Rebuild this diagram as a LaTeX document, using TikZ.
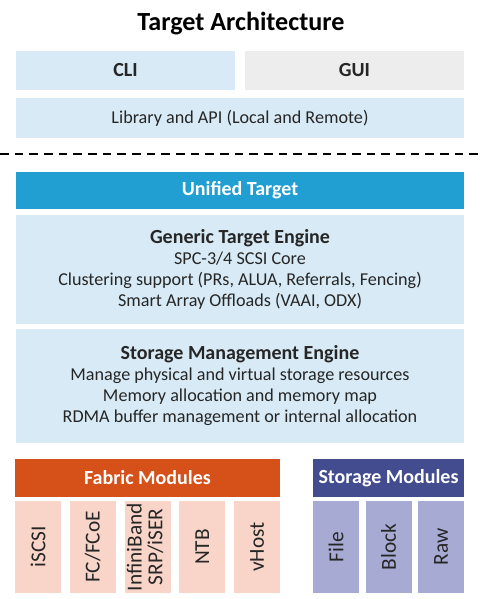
\documentclass[tikz,border=0pt]{standalone}
\usepackage{fontspec}
\setmainfont{Carlito}
\definecolor{paleblue}{HTML}{D7EAF5}
\definecolor{palegray}{HTML}{EDEDED}
\definecolor{unifiedblue}{HTML}{229FD2}
\definecolor{fabricorange}{HTML}{D65019}
\definecolor{storagenavy}{HTML}{434C8F}
\definecolor{fabricpeach}{HTML}{F8D5C8}
\definecolor{storagelilac}{HTML}{A7ABD3}
\definecolor{bodytext}{HTML}{262626}
\begin{document}
\begin{tikzpicture}[x=0.75pt,y=-0.75pt,
    layer/.style 2 args={inner sep=0pt, outer sep=0pt, align=center,
      minimum width=#1*0.75pt, minimum height=#2*0.75pt,
      text=bodytext, font=\fontsize{13.6}{15.75}\selectfont},
    heading/.style={font=\bfseries\fontsize{15}{16}\selectfont},
    module/.style={layer={46}{92}, font=\fontsize{16}{16}\selectfont}]
  \useasboundingbox (0,0) rectangle (483,599);
  \node[font=\bfseries\fontsize{19.6}{21}\selectfont] (title) at (241,24) {Target Architecture};
  % user interfaces
  \node[layer={219}{39}, heading, fill=paleblue] (cli) at (125.5,70.5) {CLI};
  \node[layer={219}{39}, heading, fill=palegray] (gui) at (354.5,70.5) {GUI};
  \node[layer={448}{40}, fill=paleblue] (lib) at (240,118) {Library and API (Local and Remote)};
  \coordinate (cutl) at (0,154);
  \coordinate (cutr) at (483,154);
  \draw[line width=2pt, dash pattern=on 6.4pt off 4.6pt] (cutl) -- (cutr);
  % target core
  \node[layer={448}{37}, heading, fill=unifiedblue, text=white] (unified) at (240,190.5) {Unified Target};
  \node[layer={448}{109}, fill=paleblue] (gte) at (240,269.5)
    {{\bfseries\fontsize{15}{15.75}\selectfont Generic Target Engine}\\
     SPC-3/4 SCSI Core\\
     Clustering support (PRs, ALUA, Referrals, Fencing)\\
     Smart Array Offloads (VAAI, ODX)};
  \node[layer={448}{114}, fill=paleblue] (sme) at (240,386)
    {{\bfseries\fontsize{15}{15.75}\selectfont Storage Management Engine}\\
     Manage physical and virtual storage resources\\
     Memory allocation and memory map\\
     RDMA buffer management or internal allocation};
  % modules
  \node[layer={265}{38}, heading, fill=fabricorange, text=white] (fabric) at (147.5,478) {Fabric Modules};
  \node[layer={151}{38}, heading, fill=storagenavy, text=white] (storage) at (388.5,478) {Storage Modules};
  \begin{scope}[every node/.append style={fill=fabricpeach}]
    \node[module] (iscsi) at (38,547) {\rotatebox{90}{iSCSI}};
    \node[module] (fcoe) at (92.75,547) {\rotatebox{90}{FC/FCoE}};
    \node[module, font=\fontsize{16}{15}\selectfont] (ib) at (147.5,547)
      {\rotatebox{90}{\begin{tabular}{@{}c@{}}InfiniBand\\SRP/iSER\end{tabular}}};
    \node[module] (ntb) at (202.25,547) {\rotatebox{90}{NTB}};
    \node[module] (vhost) at (257,547) {\rotatebox{90}{vHost}};
  \end{scope}
  \begin{scope}[every node/.append style={fill=storagelilac}]
    \node[module] (file) at (336,547) {\rotatebox{90}{File}};
    \node[module] (block) at (388.5,547) {\rotatebox{90}{Block}};
    \node[module] (raw) at (441,547) {\rotatebox{90}{Raw}};
  \end{scope}
\end{tikzpicture}
\end{document}
